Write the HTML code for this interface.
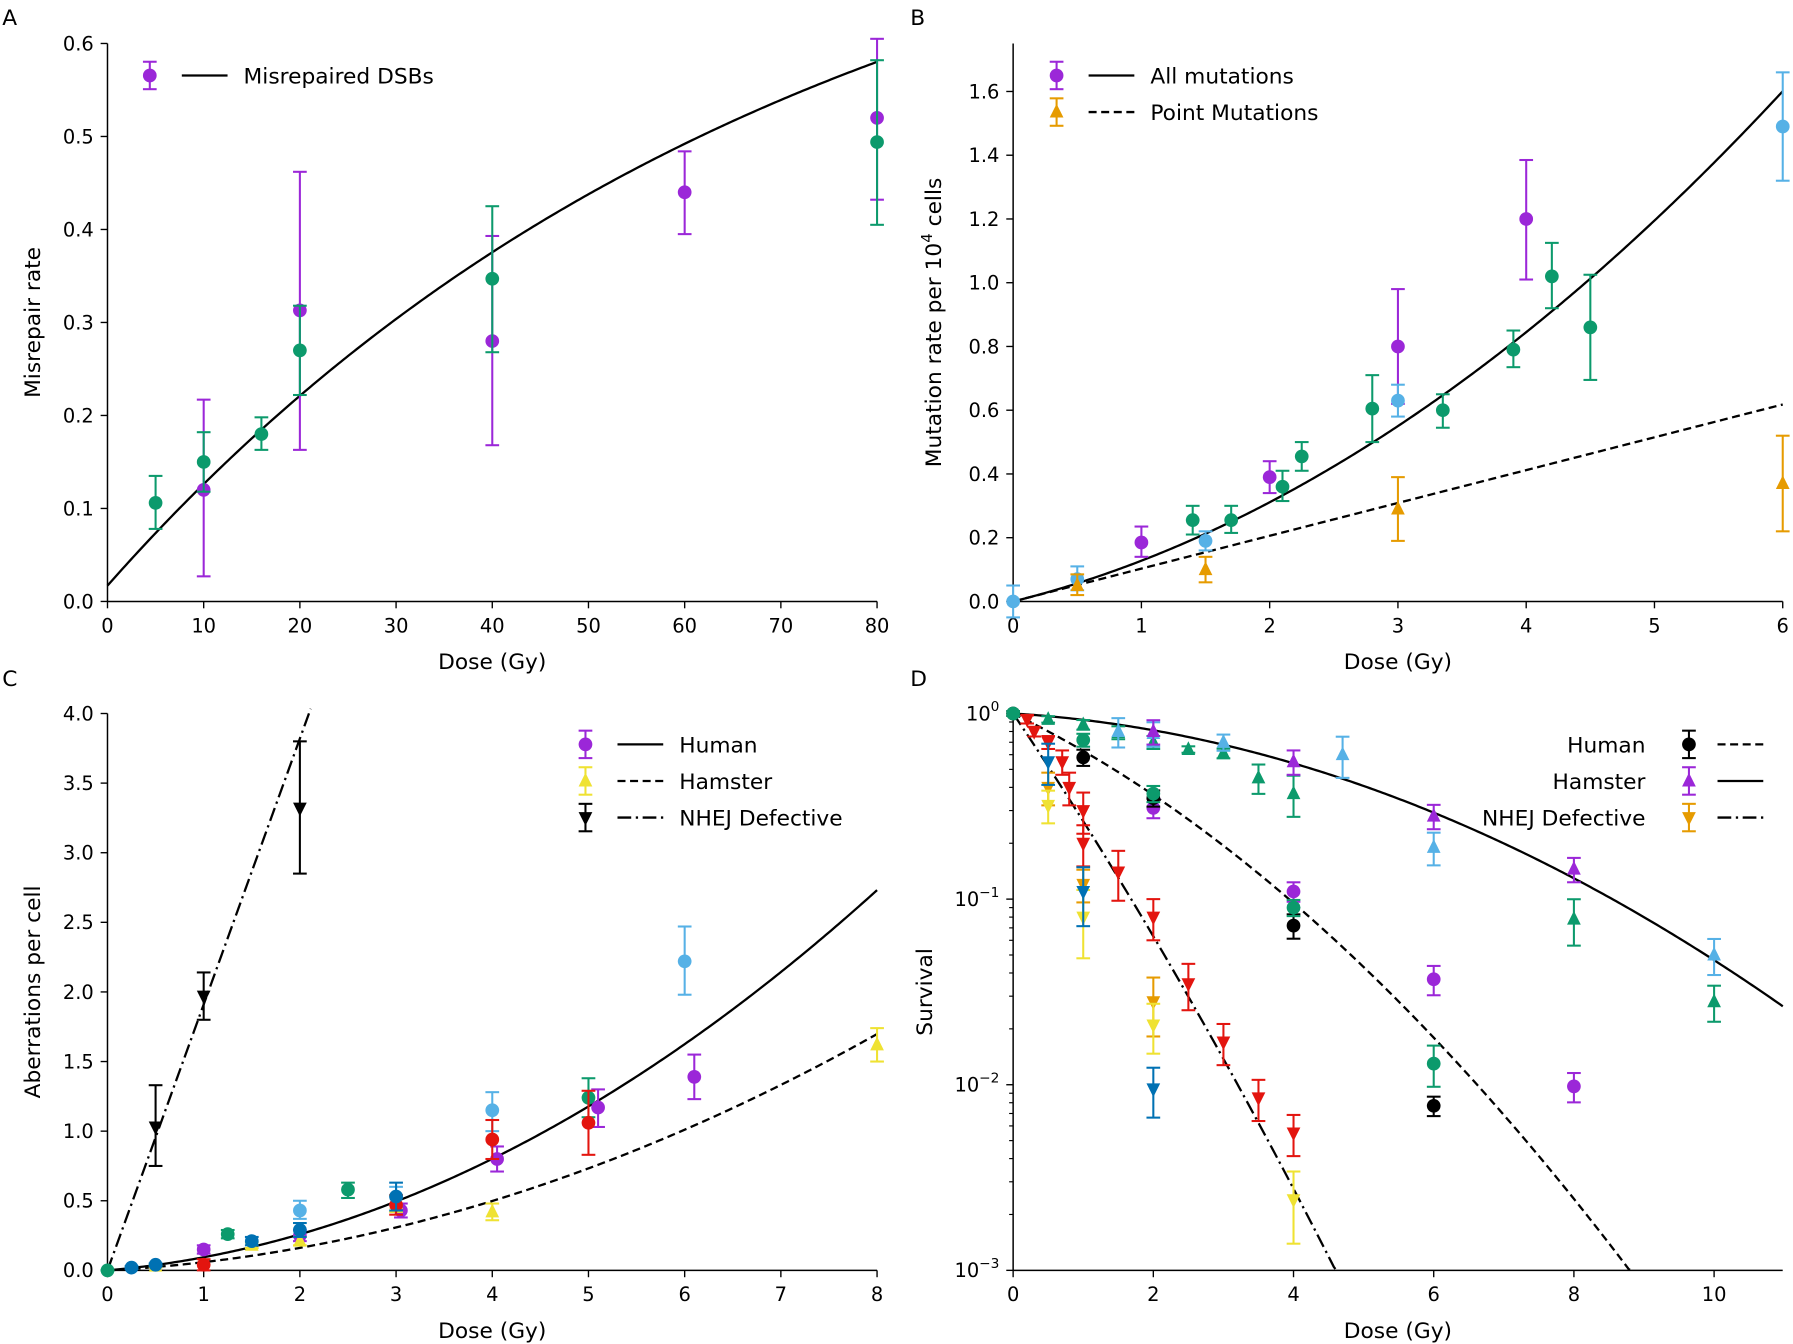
<!DOCTYPE html>
<html><head><meta charset="utf-8"><style>
html,body{margin:0;padding:0;background:#fff;}
svg{display:block;font-family:"DejaVu Sans","Liberation Sans",sans-serif;}
</style></head><body>
<svg id="fig" xmlns="http://www.w3.org/2000/svg" width="1793" height="1344" viewBox="0 0 1568 1175.4" preserveAspectRatio="none"></svg>
<script>
// ---------- DATA ----------
const aPurple=[[10,0.12,0.027,0.217],[20,0.313,0.163,0.462],[40,0.28,0.168,0.393],[60,0.44,0.395,0.484],[80,0.52,0.432,0.605]];
const aGreen=[[5,0.106,0.078,0.135],[10,0.15,0.118,0.182],[16,0.18,0.163,0.198],[20,0.27,0.222,0.318],[40,0.347,0.268,0.425],[80,0.494,0.405,0.582]];
const aXTicks=[0,10,20,30,40,50,60,70,80];
const aYTicks=[0,0.1,0.2,0.3,0.4,0.5,0.6];
const bPurple=[[1,0.185,0.14,0.235],[2,0.39,0.34,0.44],[3,0.80,0.62,0.98],[4,1.20,1.01,1.385]];
const bGreen=[[1.4,0.255,0.21,0.30],[1.7,0.255,0.215,0.30],[2.1,0.36,0.315,0.41],[2.25,0.455,0.41,0.50],[2.8,0.605,0.50,0.71],[3.35,0.60,0.545,0.65],[3.9,0.79,0.735,0.85],[4.2,1.02,0.92,1.125],[4.5,0.86,0.695,1.025]];
const bBlue=[[0,0,-0.05,0.05],[0.5,0.07,0.035,0.11],[1.5,0.19,0.16,0.22],[3,0.63,0.58,0.68],[6,1.49,1.32,1.66]];
const bOrange=[[0.5,0.05,0.02,0.085],[1.5,0.10,0.06,0.14],[3,0.29,0.19,0.39],[6,0.37,0.22,0.52]];
const bXTicks=[0,1,2,3,4,5,6];
const bYTicks=[0,0.2,0.4,0.6,0.8,1.0,1.2,1.4,1.6];
const cBlack=[[0.5,1.03,0.75,1.33],[1,1.97,1.8,2.14],[2,3.32,2.85,3.8]];
const cPurple=[[1,0.15,0.12,0.18],[2,0.25,0.21,0.29],[3.05,0.43,0.38,0.48],[4.05,0.80,0.71,0.89],[5.1,1.17,1.03,1.3],[6.1,1.39,1.23,1.55]];
const cGreen=[[0,0,0,0],[1.25,0.26,0.23,0.29],[2.5,0.58,0.52,0.63],[5,1.24,1.1,1.38]];
const cLight=[[2,0.43,0.37,0.5],[3,0.53,0.47,0.6],[4,1.15,1.0,1.28],[6,2.22,1.98,2.47]];
const cDark=[[0.25,0.02,0.01,0.03],[0.5,0.04,0.03,0.05],[1.5,0.21,0.18,0.24],[2,0.29,0.24,0.34],[3,0.53,0.43,0.63]];
const cRed=[[1,0.04,0.0,0.08],[3,0.47,0.4,0.54],[4,0.94,0.8,1.08],[5,1.06,0.83,1.29]];
const cYellow=[[0.5,0.03,0.02,0.04],[1.5,0.18,0.16,0.2],[2,0.21,0.18,0.24],[3,0.48,0.42,0.54],[4,0.42,0.36,0.48],[8,1.62,1.5,1.74]];
const cXTicks=[0,1,2,3,4,5,6,7,8];
const cYTicks=[0,0.5,1.0,1.5,2.0,2.5,3.0,3.5,4.0];
const dBlack=[[0,1,0.03],[1,0.58,0.1],[2,0.35,0.1],[4,0.072,0.15],[6,0.0077,0.12]];
const dPurpleTri=[[2,0.8,0.15],[4,0.55,0.15],[6,0.28,0.15],[8,0.145,0.15]];
const dPurpleCirc=[[2,0.31,0.12],[4,0.11,0.12],[6,0.037,0.18],[8,0.0098,0.18]];
const dGreenTri=[[0.5,0.93,0.04],[1,0.87,0.06],[1.5,0.79,0.08],[2,0.7,0.08],[2.5,0.64,0.04],[3,0.61,0.06],[3.5,0.45,0.18],[4,0.37,0.25],[8,0.078,0.28],[10,0.028,0.22]];
const dGreenCirc=[[0,1,0.03],[1,0.72,0.08],[2,0.37,0.1],[4,0.09,0.1],[6,0.013,0.25]];
const dLightTri=[[1.5,0.8,0.18],[2,0.78,0.15],[3,0.7,0.1],[4.7,0.6,0.25],[6,0.19,0.2],[10,0.05,0.22]];
const dRed=[[0.2,0.93,0.05],[0.3,0.8,0.06],[0.5,0.7,0.08],[0.7,0.55,0.15],[0.8,0.4,0.2],[1,0.3,0.25],[1,0.2,0.25],[1.5,0.14,0.3],[2,0.08,0.25],[2.5,0.035,0.28],[3,0.017,0.25],[3.5,0.0085,0.25],[4,0.0055,0.25]];
const dOrange=[[0.5,0.4,0.2],[1,0.12,0.2],[2,0.028,0.35]];
const dYellow=[[0.5,0.32,0.2],[1,0.08,0.4],[2,0.021,0.3],[4,0.0024,0.42]];
const dDark=[[0.5,0.55,0.25],[1,0.11,0.35],[2,0.0095,0.3]];
const dXTicks=[0,2,4,6,8,10];
const dYTicks=[0,-1,-2,-3];

const C={purple:"#9b27d8",green:"#0c9a6c",light:"#56b1e6",orange:"#e69b00",yellow:"#efe232",dark:"#0071b3",red:"#e3150f",black:"#000"};
const NS="http://www.w3.org/2000/svg";
const fig=document.getElementById('fig');
function mk(tag,attrs,parent,text){const e=document.createElementNS(NS,tag);for(const k in attrs)e.setAttribute(k,attrs[k]);if(text!==undefined)e.textContent=text;(parent||fig).appendChild(e);return e;}

function axis(p){
  const g=mk('g',{});
  
  
  mk('line',{x1:p.x0,y1:p.yb,x2:p.x1,y2:p.yb,stroke:'#000','stroke-width':1.3},g);
  mk('line',{x1:p.x0,y1:p.yb,x2:p.x0,y2:p.ytop,stroke:'#000','stroke-width':1.3},g);
  p.xt.forEach(v=>{const x=p.sx(v);mk('line',{x1:x,y1:p.yb,x2:x,y2:p.yb+6,stroke:'#000','stroke-width':1.2},g);
    const t=mk('text',{x:x,y:p.yb+27,'font-size':17,'text-anchor':'middle'},g,String(v));
    });
  p.yt.forEach(v=>{const y=p.sy(v);mk('line',{x1:p.x0-6,y1:y,x2:p.x0,y2:y,stroke:'#000','stroke-width':1.2},g);
    if(p.log){const t=mk('text',{x:p.x0-12,y:y+6,'font-size':17,'text-anchor':'end'},g);
      
      mk('tspan',{},t,'10');mk('tspan',{dy:-8,'font-size':12},t,v===0?'0':'\u2212'+(-v));}
    else{const t=mk('text',{x:p.x0-12,y:y+6,'font-size':17,'text-anchor':'end'},g,v.toFixed(1));
      }});
  if(p.log){for(let d=-3;d<0;d++)for(let m=2;m<10;m++){const y=p.sy(d+Math.log10(m));mk('line',{x1:p.x0-3.5,y1:y,x2:p.x0,y2:y,stroke:'#000','stroke-width':1},g);}}
  const xl=mk('text',{x:(p.x0+p.x1)/2,y:p.yb+59,'font-size':19,'text-anchor':'middle'},g,'Dose (Gy)');
  
  const yl=mk('text',{x:0,y:0,'font-size':19,'text-anchor':'middle',transform:`translate(${p.ylx},${(p.yb+p.ytop)/2}) rotate(-90)`},g);
  
  if(p.ysup){yl.appendChild(document.createTextNode('Mutation rate per 10'));mk('tspan',{dy:-8,'font-size':13},yl,'4');mk('tspan',{dy:8},yl,' cells');}
  else yl.textContent=p.ylabel;
  const L=mk('text',{x:p.lx,y:p.ly,'font-size':19},g,p.letter);
  
  return g;
}
function marker(g,type,x,y,col,r){
  r=r||6;
  if(type==='o')return mk('circle',{cx:x,cy:y,r:r,fill:col},g);
  if(type==='^')return mk('polygon',{points:`${x},${y-r*1.2} ${x-r},${y+r*0.8} ${x+r},${y+r*0.8}`,fill:col},g);
  return mk('polygon',{points:`${x},${y+r*1.2} ${x-r},${y-r*0.8} ${x+r},${y-r*0.8}`,fill:col},g);
}
function errpt(g,x,y,ylo,yhi,col,type){
  mk('line',{x1:x,y1:ylo,x2:x,y2:yhi,stroke:col,'stroke-width':1.8},g);
  mk('line',{x1:x-6,y1:ylo,x2:x+6,y2:ylo,stroke:col,'stroke-width':1.8},g);
  mk('line',{x1:x-6,y1:yhi,x2:x+6,y2:yhi,stroke:col,'stroke-width':1.8},g);
  marker(g,type,x,y,col);
}
function series(p,data,col,type,name){
  const g=mk('g',{});
  
  
  data.forEach(d=>{
    let y,lo,hi;
    if(p.log){y=p.sy(Math.log10(d[1]));lo=p.sy(Math.log10(d[1]*(1-d[2])));hi=p.sy(Math.log10(d[1]*(1+d[2])));}
    else{y=p.sy(d[1]);lo=p.sy(d[2]);hi=p.sy(d[3]);}
    errpt(g,p.sx(d[0]),y,lo,hi,col,type);
  });
}
function curve(p,f,xmax,dash,name){
  let pts=[];
  for(let i=0;i<=300;i++){const x=xmax*i/300;let v=f(x);let yv=p.log?Math.log10(v):v;if(p.log&&yv<-3.0){const yy=p.sy(-3);pts.push([p.sx(x),yy]);break;}
    pts.push([p.sx(x),p.sy(yv)]);if(p.sy(yv)<p.clipTop)break;}
  const pl=mk('polyline',{points:pts.map(q=>q.join(',')).join(' '),fill:'none',stroke:'#000','stroke-width':2,'stroke-dasharray':dash||'none'});
  
  
}
function legendRow(x,y,type,col,dash,text,rightText){
  const g=mk('g',{});
  
  
  if(rightText){
    mk('text',{x:x-38,y:y+7,'font-size':19,'text-anchor':'end'},g,text);
    errpt(g,x,y,y+12,y-12,col,type);
    mk('line',{x1:x+25,y1:y,x2:x+65,y2:y,stroke:'#000','stroke-width':2,'stroke-dasharray':dash||'none'},g);
  }else{
    errpt(g,x,y,y+12,y-12,col,type);
    mk('line',{x1:x+28,y1:y,x2:x+68,y2:y,stroke:'#000','stroke-width':2,'stroke-dasharray':dash||'none'},g);
    mk('text',{x:x+82,y:y+7,'font-size':19},g,text);
  }
}
const DASH='7,4', DD='12,4,2,4';

const pA={name:'panel-a',x0:94,x1:767,yb:526,ytop:38,sx:v=>94+v*8.4125,sy:v=>526-v*813.3,xt:aXTicks,yt:aYTicks,ylx:35,ylabel:'Misrepair rate',lx:2,ly:22,letter:'A',clipTop:30};
axis(pA);
curve(pA,d=>0.017+0.836*(1-Math.exp(-0.014*d)),80,null,'fit-misrepaired');
series(pA,aPurple,C.purple,'o','series-a-purple');
series(pA,aGreen,C.green,'o','series-a-green');
legendRow(131,66,'o',C.purple,null,'Misrepaired DSBs');

const pB={name:'panel-b',x0:886,x1:1559,yb:526,ytop:38,sx:v=>886+v*112.17,sy:v=>526-v*278.75,xt:bXTicks,yt:bYTicks,ylx:823,ysup:true,lx:796,ly:22,letter:'B',clipTop:30};
axis(pB);
curve(pB,d=>0.1*d+0.0278*d*d,6,null,'fit-all-mutations');
curve(pB,d=>0.103*d,6,DASH,'fit-point-mutations');
series(pB,bPurple,C.purple,'o','series-b-purple');
series(pB,bGreen,C.green,'o','series-b-green');
series(pB,bBlue,C.light,'o','series-b-lightblue');
series(pB,bOrange,C.orange,'^','series-b-orange');
legendRow(924,66,'o',C.purple,null,'All mutations');
legendRow(924,98,'^',C.orange,DASH,'Point Mutations');

const pC={name:'panel-c',x0:94,x1:767,yb:1111,ytop:624,sx:v=>94+v*84.125,sy:v=>1111-v*121.75,xt:cXTicks,yt:cYTicks,ylx:35,ylabel:'Aberrations per cell',lx:2,ly:600,letter:'C',clipTop:620};
axis(pC);
curve(pC,d=>1.91*d,2.2,DD,'fit-nhej');
curve(pC,d=>0.059*d+0.0353*d*d,8,null,'fit-human');
curve(pC,d=>0.037*d+0.0219*d*d,8,DASH,'fit-hamster');
series(pC,cGreen,C.green,'o','series-c-green');
series(pC,cPurple,C.purple,'o','series-c-purple');
series(pC,cLight,C.light,'o','series-c-lightblue');
series(pC,cYellow,C.yellow,'^','series-c-yellow');
series(pC,cRed,C.red,'o','series-c-red');
series(pC,cDark,C.dark,'o','series-c-darkblue');
series(pC,cBlack,C.black,'v','series-c-nhej');
legendRow(512,651,'o',C.purple,null,'Human');
legendRow(512,683,'^',C.yellow,DASH,'Hamster');
legendRow(512,715,'v',C.black,DD,'NHEJ Defective');

const pD={name:'panel-d',x0:886,x1:1559,yb:1111,ytop:624,log:true,sx:v=>886+v*61.3,sy:v=>624-v*162.33,xt:dXTicks,yt:dYTicks,ylx:815,ylabel:'Survival',lx:796,ly:600,letter:'D',clipTop:600};
axis(pD);
curve(pD,d=>Math.exp(-0.0535*d-0.02525*d*d),10.98,null,'fit-hamster-survival');
curve(pD,d=>Math.exp(-0.423*d-0.0412*d*d),10.98,DASH,'fit-human-survival');
curve(pD,d=>Math.exp(-1.29*d-0.046*d*d),10.98,DD,'fit-nhej-survival');
series(pD,dGreenTri,C.green,'^','series-d-green-tri');
series(pD,dLightTri,C.light,'^','series-d-lightblue-tri');
series(pD,dPurpleTri,C.purple,'^','series-d-purple-tri');
series(pD,dPurpleCirc,C.purple,'o','series-d-purple-circ');
series(pD,dBlack,C.black,'o','series-d-black');
series(pD,dGreenCirc,C.green,'o','series-d-green-circ');
series(pD,dRed,C.red,'v','series-d-red');
series(pD,dOrange,C.orange,'v','series-d-orange');
series(pD,dYellow,C.yellow,'v','series-d-yellow');
series(pD,dDark,C.dark,'v','series-d-darkblue');
legendRow(1477,651,'o',C.black,DASH,'Human',true);
legendRow(1477,683,'^',C.purple,null,'Hamster',true);
legendRow(1477,715,'v',C.orange,DD,'NHEJ Defective',true);
</script>
</body></html>
